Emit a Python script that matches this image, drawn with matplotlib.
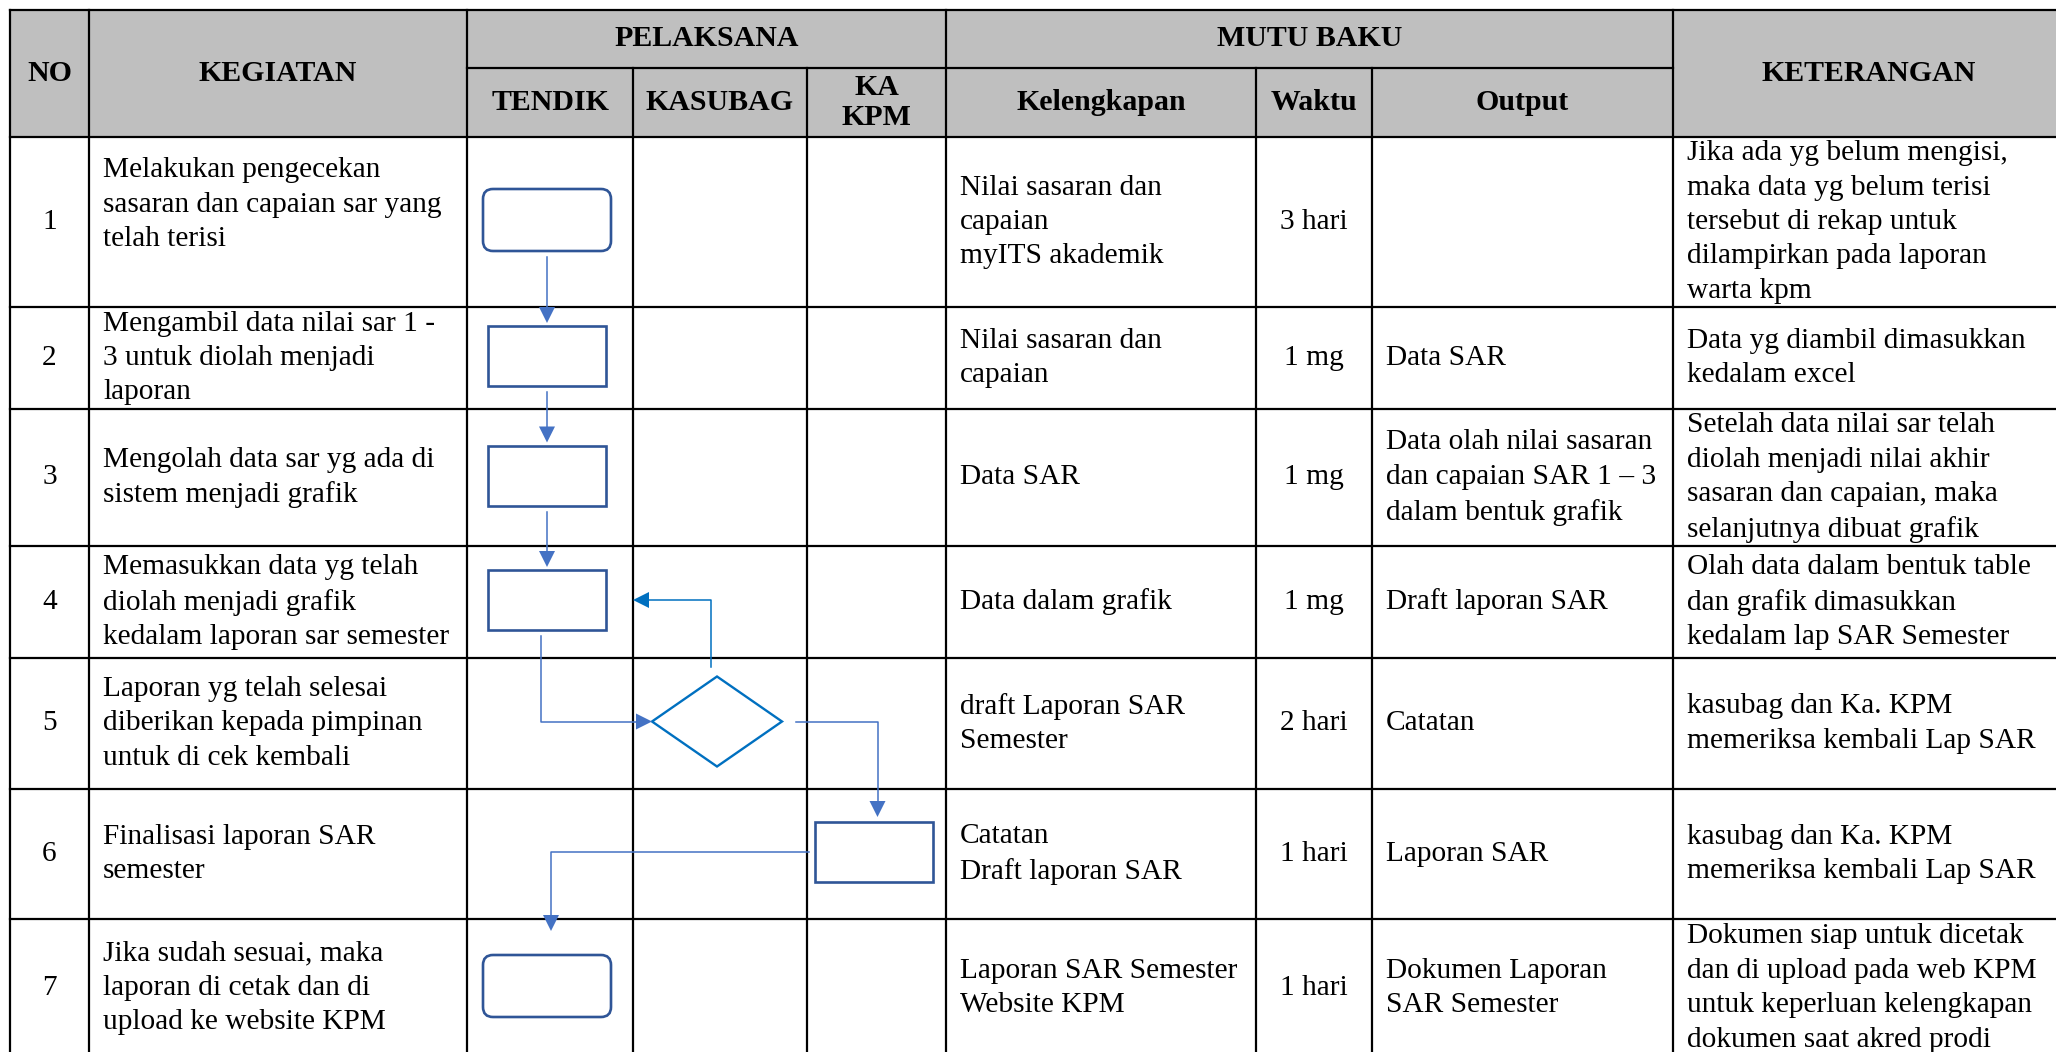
import matplotlib
matplotlib.use("Agg")
import matplotlib.pyplot as plt
from matplotlib.patches import Rectangle, FancyBboxPatch, Polygon

plt.rcParams['font.family'] = ['Liberation Serif', 'DejaVu Serif']

# ---------------- data ----------------
span_headers = ["NO", "KEGIATAN", "KETERANGAN"]
group_headers = ["PELAKSANA", "MUTU BAKU"]
pelaksana = ["TENDIK", "KASUBAG", "KA\nKPM"]
mutu_baku = ["Kelengkapan", "Waktu", "Output"]

nos = ["1", "2", "3", "4", "5", "6", "7"]
kegiatan = [
    "Melakukan pengecekan\nsasaran dan capaian sar yang\ntelah terisi\n",
    "Mengambil data nilai sar 1 -\n3 untuk diolah menjadi\nlaporan",
    "Mengolah data sar yg ada di\nsistem menjadi grafik",
    "Memasukkan data yg telah\ndiolah menjadi grafik\nkedalam laporan sar semester",
    "Laporan yg telah selesai\ndiberikan kepada pimpinan\nuntuk di cek kembali",
    "Finalisasi laporan SAR\nsemester",
    "Jika sudah sesuai, maka\nlaporan di cetak dan di\nupload ke website KPM",
]
kelengkapan = [
    "Nilai sasaran dan\ncapaian\nmyITS akademik",
    "Nilai sasaran dan\ncapaian",
    "Data SAR",
    "Data dalam grafik",
    "draft Laporan SAR\nSemester",
    "Catatan\nDraft laporan SAR",
    "Laporan SAR Semester\nWebsite KPM",
]
waktu = ["3 hari", "1 mg", "1 mg", "1 mg", "2 hari", "1 hari", "1 hari"]
output = [
    "",
    "Data SAR",
    "Data olah nilai sasaran\ndan capaian SAR 1 \u2013 3\ndalam bentuk grafik",
    "Draft laporan SAR",
    "Catatan",
    "Laporan SAR",
    "Dokumen Laporan\nSAR Semester",
]
keterangan = [
    "Jika ada yg belum mengisi,\nmaka data yg belum terisi\ntersebut di rekap untuk\ndilampirkan pada laporan\nwarta kpm",
    "Data yg diambil dimasukkan\nkedalam excel",
    "Setelah data nilai sar telah\ndiolah menjadi nilai akhir\nsasaran dan capaian, maka\nselanjutnya dibuat grafik",
    "Olah data dalam bentuk table\ndan grafik dimasukkan\nkedalam lap SAR Semester",
    "kasubag dan Ka. KPM\nmemeriksa kembali Lap SAR",
    "kasubag dan Ka. KPM\nmemeriksa kembali Lap SAR",
    "Dokumen siap untuk dicetak\ndan di upload pada web KPM\nuntuk keperluan kelengkapan\ndokumen saat akred prodi",
]

# flowchart: lane of each step (0=TENDIK, 1=KASUBAG, 2=KA KPM) and its symbol
step_lane = [0, 0, 0, 0, 1, 2, 0]
step_shape = ["terminator", "process", "process", "process", "decision", "process", "terminator"]
# connections: (from step, to step, route)
connections = [(0, 1, "v"), (1, 2, "v"), (2, 3, "v"), (3, 4, "down-right"),
               (4, 3, "up-left"), (4, 5, "right-down"), (5, 6, "left-down")]

# ---------------- layout ----------------
W, H = 2056, 1052
col_edges = [10, 89, 467, 633, 807, 946, 1256, 1372, 1673, 2064]
header_top, header_mid, header_bot = 10, 68, 137
row_edges = [137, 307, 409, 546, 658, 789, 919, 1057]
FS = 21.2
LS = 1.42
PAD = 14
GRID = 1.6
HEADER_BG = "#BFBFBF"
SHAPE_EC = "#2F5597"
LINE_C = "#4472C4"
DEC_C = "#0070C0"

fig = plt.figure(figsize=(W / 100, H / 100), dpi=100)
ax = fig.add_axes([0, 0, 1, 1])
ax.set_xlim(0, W)
ax.set_ylim(H, 0)
ax.axis("off")

# header background
ax.add_patch(Rectangle((col_edges[0], header_top), col_edges[-1] - col_edges[0],
                       header_bot - header_top, facecolor=HEADER_BG, edgecolor="none", zorder=0))

def hline(y, x0, x1):
    ax.plot([x0, x1], [y, y], color="black", lw=GRID, solid_capstyle="projecting", zorder=3)

def vline(x, y0, y1):
    ax.plot([x, x], [y0, y1], color="black", lw=GRID, solid_capstyle="projecting", zorder=3)

# horizontal lines
hline(header_top, col_edges[0], col_edges[-1])
hline(header_mid, col_edges[2], col_edges[8])
for y in row_edges:
    hline(y, col_edges[0], col_edges[-1])
# vertical lines
for i, x in enumerate(col_edges):
    top = header_mid if i in (3, 4, 6, 7) else header_top
    vline(x, top, row_edges[-1])

def cx(i):
    return (col_edges[i] + col_edges[i + 1]) / 2

# header texts
hb = dict(fontsize=21.5, fontweight="bold", ha="center", va="center", linespacing=1.12, zorder=4)
ymid_full = (header_top + header_bot) / 2
ax.text(cx(0), ymid_full, span_headers[0], **hb)
ax.text(cx(1), ymid_full, span_headers[1], **hb)
ax.text(cx(8), ymid_full, span_headers[2], **hb)
ax.text((col_edges[2] + col_edges[5]) / 2, (header_top + header_mid) / 2, group_headers[0], **hb)
ax.text((col_edges[5] + col_edges[8]) / 2, (header_top + header_mid) / 2, group_headers[1], **hb)
ysub = (header_mid + header_bot) / 2
for k, t in enumerate(pelaksana):
    ax.text(cx(2 + k), ysub, t, **hb)
for k, t in enumerate(mutu_baku):
    ax.text(cx(5 + k), ysub, t, **hb)

# body texts
tb = dict(fontsize=FS, va="center", linespacing=LS, zorder=4)
for r in range(len(nos)):
    yc = (row_edges[r] + row_edges[r + 1]) / 2
    ax.text(cx(0), yc, nos[r], ha="center", **tb)
    ax.text(col_edges[1] + PAD, yc, kegiatan[r], ha="left", **tb)
    ax.text(col_edges[5] + PAD, yc, kelengkapan[r], ha="left", **tb)
    ax.text(cx(6), yc, waktu[r], ha="center", **tb)
    ax.text(col_edges[7] + PAD, yc, output[r], ha="left", **tb)
    ax.text(col_edges[8] + PAD, yc, keterangan[r], ha="left", **tb)

# ---------------- flowchart ----------------
SIZES = {"terminator": (128, 62), "process": (118, 60), "decision": (130, 90)}
geo = []
for s, (lane, shape) in enumerate(zip(step_lane, step_shape)):
    x = cx(2 + lane) - 3
    y = (row_edges[s] + row_edges[s + 1]) / 2 - 2
    w, h = SIZES[shape]
    geo.append((x, y, w, h))
    if shape == "terminator":
        ax.add_patch(FancyBboxPatch((x - w / 2 + 10, y - h / 2 + 10), w - 20, h - 20,
                                    boxstyle="round,pad=10", facecolor="white",
                                    edgecolor=SHAPE_EC, lw=1.9, zorder=5))
    elif shape == "process":
        ax.add_patch(Rectangle((x - w / 2, y - h / 2), w, h, facecolor="white",
                               edgecolor=SHAPE_EC, lw=1.9, zorder=5))
    else:
        ax.add_patch(Polygon([(x - w / 2, y), (x, y - h / 2), (x + w / 2, y), (x, y + h / 2)],
                             closed=True, facecolor="white", edgecolor=DEC_C, lw=1.7, zorder=5))

AL, AW = 16, 8

def arrow(pts, color):
    xs = [p[0] for p in pts]
    ys = [p[1] for p in pts]
    (x0, y0), (x1, y1) = pts[-2], pts[-1]
    dx, dy = x1 - x0, y1 - y0
    n = (dx * dx + dy * dy) ** 0.5
    ux, uy = dx / n, dy / n
    bx, by = x1 - ux * AL, y1 - uy * AL
    xs[-1], ys[-1] = bx, by
    ax.plot(xs, ys, color=color, lw=1.1, zorder=6)
    ax.add_patch(Polygon([(x1, y1), (bx - uy * AW, by + ux * AW), (bx + uy * AW, by - ux * AW)],
                         closed=True, facecolor=color, edgecolor="none", zorder=6))

G = 6
for a, b, route in connections:
    xa, ya, wa, ha_ = geo[a]
    xb, yb, wb, hb_ = geo[b]
    if route == "v":
        arrow([(xa, ya + ha_ / 2 + G), (xb, yb - hb_ / 2 - 3)], LINE_C)
    elif route == "down-right":
        arrow([(xa - 6, ya + ha_ / 2 + G), (xa - 6, yb), (xb - wb / 2, yb)], LINE_C)
    elif route == "up-left":
        arrow([(xa - 6, ya - ha_ / 2 - 10), (xa - 6, yb), (col_edges[2 + step_lane[b] + 1], yb)], DEC_C)
    elif route == "right-down":
        arrow([(xa + wa / 2 + 14, ya), (xb + 4, ya), (xb + 4, yb - hb_ / 2 - 5)], LINE_C)
    elif route == "left-down":
        arrow([(xa - wa / 2 - G, ya), (xb + 4, ya), (xb + 4, yb - hb_ / 2 - 24)], LINE_C)

fig.savefig("out.png", dpi=100, facecolor="white")
